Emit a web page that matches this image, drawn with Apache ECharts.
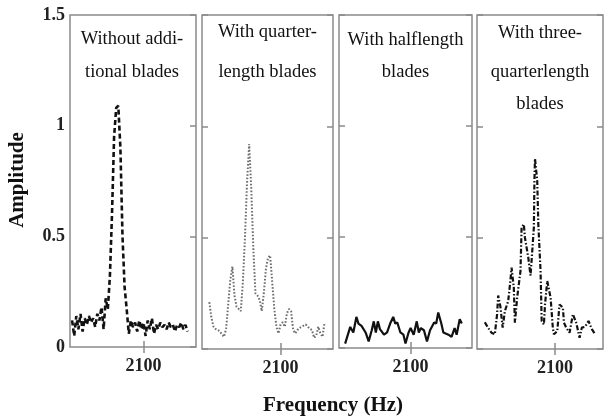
<!DOCTYPE html>
<html>
<head>
<meta charset="utf-8">
<script src="https://cdn.jsdelivr.net/npm/echarts@6/dist/echarts.min.js"></script>
<style>
  html, body { margin: 0; padding: 0; background: #fff; }
  #chart { width: 605px; height: 418px; }
</style>
</head>
<body>
<div id="chart"></div>
<script>
// Frequency tick shown on every panel
const freqTicks = [2100];
const ampTicks = [0, 0.5, 1, 1.5];

// Panel titles (one entry per line)
const titles = [
  ['Without addi-', 'tional blades'],
  ['With quarter-', 'length blades'],
  ['With halflength', 'blades'],
  ['With three-', 'quarterlength', 'blades']
];

// Without additional blades
const freq1 = [2032,2034,2036,2038,2040,2042,2044,2046,2048,2050,2052,2054,2056,2058,2060,2062,2064,2066,2068,2070,2072,2074,2076,2078,2080,2082,2084,2086,2088,2090,2092,2094,2096,2098,2100,2102,2104,2106,2108,2110,2112,2114,2116,2118,2120,2122,2124,2126,2128,2130,2132,2134,2136,2138,2140,2142];
const amp1 = [0.12,0.05,0.14,0.08,0.15,0.07,0.13,0.10,0.14,0.11,0.13,0.09,0.15,0.12,0.18,0.08,0.22,0.17,0.32,0.60,0.95,1.08,1.09,0.90,0.50,0.27,0.17,0.06,0.12,0.09,0.11,0.07,0.12,0.08,0.11,0.05,0.12,0.08,0.13,0.06,0.10,0.08,0.11,0.09,0.10,0.08,0.11,0.09,0.10,0.07,0.10,0.09,0.11,0.08,0.10,0.07];

// With quarter-length blades
const freq2 = [2032,2034,2036,2038,2040,2042,2044,2046,2048,2050,2052,2054,2056,2058,2060,2062,2064,2066,2068,2070,2072,2074,2076,2078,2080,2082,2084,2086,2088,2090,2092,2094,2096,2098,2100,2102,2104,2106,2108,2110,2112,2114,2116,2118,2120,2122,2124,2126,2128,2130,2132,2134,2136,2138,2140,2142];
const amp2 = [0.21,0.14,0.10,0.09,0.085,0.08,0.065,0.055,0.09,0.20,0.31,0.37,0.24,0.19,0.18,0.17,0.30,0.50,0.75,0.92,0.72,0.45,0.25,0.24,0.22,0.17,0.25,0.36,0.41,0.42,0.30,0.18,0.10,0.07,0.11,0.12,0.10,0.16,0.18,0.17,0.085,0.07,0.085,0.095,0.10,0.105,0.11,0.10,0.09,0.085,0.05,0.06,0.10,0.07,0.055,0.12];

// With halflength blades
const freq3 = [2036,2041,2044,2047,2049,2052,2056,2059,2062,2064,2066,2068,2070,2074,2077,2080,2083,2085,2087,2090,2093,2095,2098,2100,2103,2106,2108,2110,2113,2116,2119,2123,2125,2127,2130,2132,2137,2140,2143,2145,2148,2150];
const amp3 = [0.02,0.095,0.07,0.14,0.11,0.10,0.07,0.03,0.08,0.12,0.07,0.12,0.085,0.06,0.07,0.11,0.14,0.11,0.115,0.07,0.06,0.02,0.07,0.09,0.06,0.12,0.07,0.09,0.08,0.03,0.08,0.115,0.11,0.16,0.11,0.07,0.06,0.05,0.09,0.06,0.13,0.11];

// With three-quarterlength blades
const freq4 = [2037,2040,2043,2046,2048,2049,2051,2053,2055,2058,2060,2061,2063,2064,2066,2067,2069,2070,2072,2073,2075,2076,2078,2079,2081,2081.5,2082,2084,2085,2087,2088,2090,2091,2093,2096,2098,2099,2102,2104,2107,2108,2110,2113,2116,2119,2122,2124,2127,2130,2133,2136];
const amp4 = [0.12,0.095,0.073,0.066,0.156,0.24,0.19,0.096,0.17,0.216,0.31,0.366,0.276,0.118,0.23,0.23,0.35,0.546,0.56,0.50,0.44,0.41,0.33,0.40,0.546,0.757,0.855,0.757,0.56,0.35,0.126,0.11,0.20,0.306,0.23,0.096,0.066,0.08,0.20,0.186,0.118,0.096,0.073,0.156,0.118,0.05,0.096,0.10,0.126,0.089,0.066];

const panelFreq = [freq1, freq2, freq3, freq4];
const panelAmp = [amp1, amp2, amp3, amp4];
const freqMin = [2030, 2025, 2030, 2030];
const freqMax = [2150, 2150, 2160, 2143];

// Panel boxes in pixels
const boxes = [
  { left: 70,  top: 15, width: 126, height: 332 },
  { left: 202, top: 15, width: 131, height: 334 },
  { left: 339, top: 15, width: 133, height: 333 },
  { left: 477, top: 15, width: 126, height: 334 }
];
const lineStyles = [
  { color: '#111', width: 2.6, type: [5, 3] },
  { color: '#6e6e6e', width: 2, type: [1.6, 1.8] },
  { color: '#111', width: 2.2 },
  { color: '#111', width: 2.2, type: [5, 2, 1.5, 2] }
];
const titleLineY = [
  [39, 72],
  [32, 72],
  [40, 72],
  [33, 72, 104]
];

const SERIF = '"Liberation Serif", "Times New Roman", serif';
const frameColor = '#8a8a8a';

const grid = [], xAxis = [], yAxis = [], series = [], graphic = [];
boxes.forEach((b, i) => {
  grid.push({ left: b.left, top: b.top, width: b.width, height: b.height,
    show: true, borderColor: frameColor, borderWidth: 1.5, backgroundColor: 'transparent' });
  // bottom frequency axis
  xAxis.push({
    type: 'value', gridIndex: i, min: freqMin[i], max: freqMax[i], position: 'bottom',
    axisLine: { show: false },
    axisTick: { show: true, inside: true, length: 6, customValues: freqTicks,
      lineStyle: { color: frameColor, width: 1.5 } },
    axisLabel: { show: true, customValues: freqTicks, margin: 10,
      formatter: v => String(v),
      fontFamily: SERIF, fontWeight: 'bold', fontSize: 18, color: '#222' },
    splitLine: { show: false }
  });
  // top mirror ticks
  xAxis.push({
    type: 'value', gridIndex: i, min: freqMin[i], max: freqMax[i], position: 'top',
    axisLine: { show: false },
    axisTick: { show: true, inside: true, length: 6, customValues: freqTicks,
      lineStyle: { color: frameColor, width: 1.5 } },
    axisLabel: { show: false },
    splitLine: { show: false }
  });
  yAxis.push({
    type: 'value', gridIndex: i, min: 0, max: 1.5, interval: 0.5, position: 'left',
    axisLine: { show: false },
    axisTick: { show: i > 0, inside: true, length: 6, lineStyle: { color: frameColor, width: 1.5 } },
    axisLabel: { show: i === 0, margin: 5, fontFamily: SERIF, fontWeight: 'bold',
      fontSize: 18, color: '#222' },
    splitLine: { show: false }
  });
  yAxis.push({
    type: 'value', gridIndex: i, min: 0, max: 1.5, interval: 0.5, position: 'right',
    axisLine: { show: false },
    axisTick: { show: true, inside: true, length: 6, lineStyle: { color: frameColor, width: 1.5 } },
    axisLabel: { show: false },
    splitLine: { show: false }
  });
  series.push({
    type: 'line', xAxisIndex: 2 * i, yAxisIndex: 2 * i,
    data: panelFreq[i].map((f, k) => [f, panelAmp[i][k]]),
    showSymbol: false, smooth: false, animation: false,
    lineStyle: lineStyles[i]
  });
  titles[i].forEach((t, k) => {
    graphic.push({
      type: 'text', x: b.left + b.width / 2 + (i === 0 ? -1 : 0), y: titleLineY[i][k],
      style: { text: t, fontFamily: SERIF, fontSize: 18.5, fill: '#111',
        align: 'center', verticalAlign: 'middle' }
    });
  });
});

graphic.push({
  type: 'text', x: 18, y: 180, rotation: Math.PI / 2,
  style: { text: 'Amplitude', fontFamily: SERIF, fontWeight: 'bold', fontSize: 21,
    fill: '#111', align: 'center', verticalAlign: 'middle' }
});
graphic.push({
  type: 'text', x: 333, y: 406,
  style: { text: 'Frequency (Hz)', fontFamily: SERIF, fontWeight: 'bold', fontSize: 21,
    fill: '#111', align: 'center', verticalAlign: 'middle' }
});

const chart = echarts.init(document.getElementById('chart'), null, { renderer: 'canvas' });
chart.setOption({
  backgroundColor: '#fff',
  animation: false,
  grid, xAxis, yAxis, series, graphic
});
</script>
</body>
</html>
